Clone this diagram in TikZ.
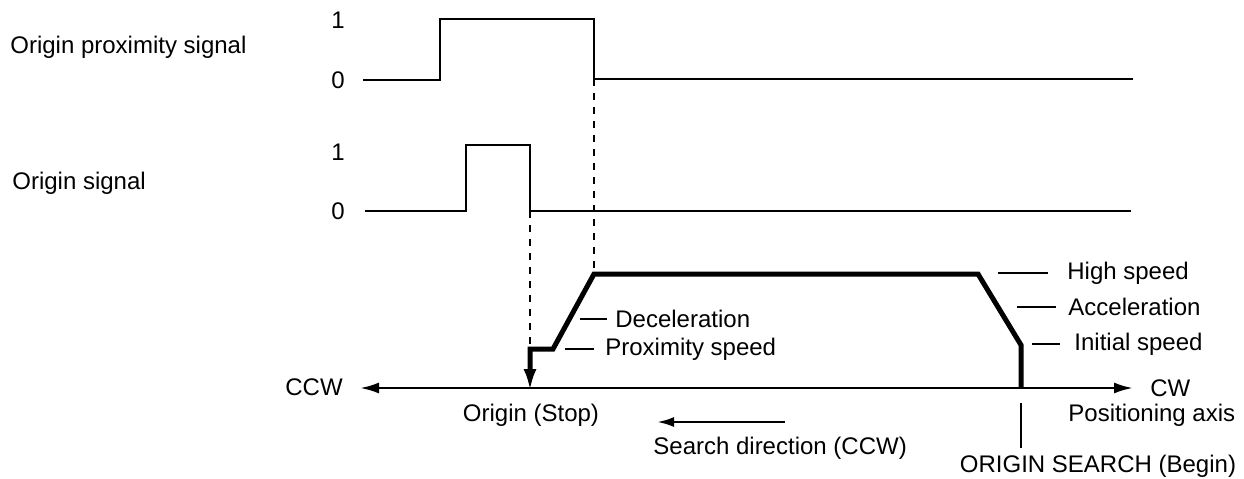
\documentclass[tikz,border=0pt]{standalone}
\usepackage{fontspec}
\setmainfont{Liberation Sans}
\usetikzlibrary{arrows.meta, positioning}

\begin{document}
\begin{tikzpicture}[x=0.5pt, y=-0.5pt,
  signal/.style={line width=1.3pt},
  profile/.style={line width=2.5pt, line join=miter},
  guide/.style={line width=1.4pt, dash pattern=on 3.5pt off 3.5pt},
  leader/.style={line width=1.2pt},
  label/.style={font=\fontsize{12}{14}\selectfont, inner sep=0pt},
  axistip/.style={{Latex[length=9.5pt, width=5.5pt]}-{Latex[length=9.5pt, width=5.5pt]}}]
\useasboundingbox (0,0) rectangle (1244,478);

% origin proximity signal
\node[label, anchor=west] (prox) at (10,47) {Origin proximity signal};
\node[label] (proxone) at (338,20) {1};
\node[label] (proxzero) at (338,80) {0};
\coordinate (pfall) at (594,79);
\draw[signal] (363,80) -- (440,80) -- (440,19) -- (594,19) -- (pfall) -- (1133,79);

% origin signal
\node[label, anchor=west] (orig) at (12,183) {Origin signal};
\node[label] (origone) at (338,152) {1};
\node[label] (origzero) at (338,211) {0};
\coordinate (ofall) at (530,211);
\draw[signal] (365,211) -- (466,211) -- (466,145) -- (530,145) -- (ofall) -- (1131,211);

% positioning axis
\coordinate (ccw) at (360,388);
\coordinate (cw) at (1133,388);
\draw[signal, axistip] (ccw) -- (cw);
\node[label, anchor=west] (ccwlbl) at (285,387) {CCW};
\node[label, anchor=west] (cwlbl) at (1150,388) {CW};
\node[label, anchor=west] (axis) at (1068,415) {Positioning axis};

% speed profile
\coordinate (begin) at (1021,388);
\coordinate (initsp) at (1021,345);
\coordinate (acctop) at (978,274);
\coordinate (dectop) at (594,274);
\coordinate (decbot) at (553,349);
\coordinate (proxend) at (530,349);
\coordinate (stop) at (530,391);
\draw[profile, -{Latex[length=11pt, width=6.5pt]}] (begin) -- (initsp) -- (acctop) -- (dectop) -- (decbot) -- (proxend) -- (stop);

\draw[guide] (pfall) -- (dectop);
\draw[guide] (ofall) -- (proxend);

% speed labels
\coordinate (highL) at (998,273);
\node[label, anchor=west] (high) at (1067,273) {High speed};
\draw[leader, shorten >=9.5pt] (highL) -- (high.west);
\coordinate (accL) at (1017,307);
\node[label, anchor=west] (acc) at (1068,307) {Acceleration};
\draw[leader, shorten >=6pt] (accL) -- (acc.west);
\coordinate (initL) at (1032,344);
\node[label, anchor=west] (init) at (1074,344) {Initial speed};
\draw[leader, shorten >=7pt] (initL) -- (init.west);
\coordinate (decL) at (580,319);
\node[label, anchor=west] (dec) at (615,319) {Deceleration};
\draw[leader, shorten >=4pt] (decL) -- (dec.west);
\coordinate (proxL) at (565,349);
\node[label, anchor=west] (proxsp) at (605,349) {Proximity speed};
\draw[leader, shorten >=5.5pt] (proxL) -- (proxsp.west);

% start and stop
\node[label] (stoplbl) at (531,415) {Origin (Stop)};
\coordinate (tickT) at (1021,403);
\coordinate (tickB) at (1021,448);
\draw[leader] (tickT) -- (tickB);
\node[label] (beginlbl) at (1098,466) {ORIGIN SEARCH (Begin)};

% search direction
\coordinate (srchR) at (785,422);
\coordinate (srchL) at (657,422);
\draw[signal, -{Latex[length=8.5pt, width=5pt]}] (srchR) -- (srchL);
\node[label, anchor=west] (srch) at (653,448) {Search direction (CCW)};
\end{tikzpicture}
\end{document}
